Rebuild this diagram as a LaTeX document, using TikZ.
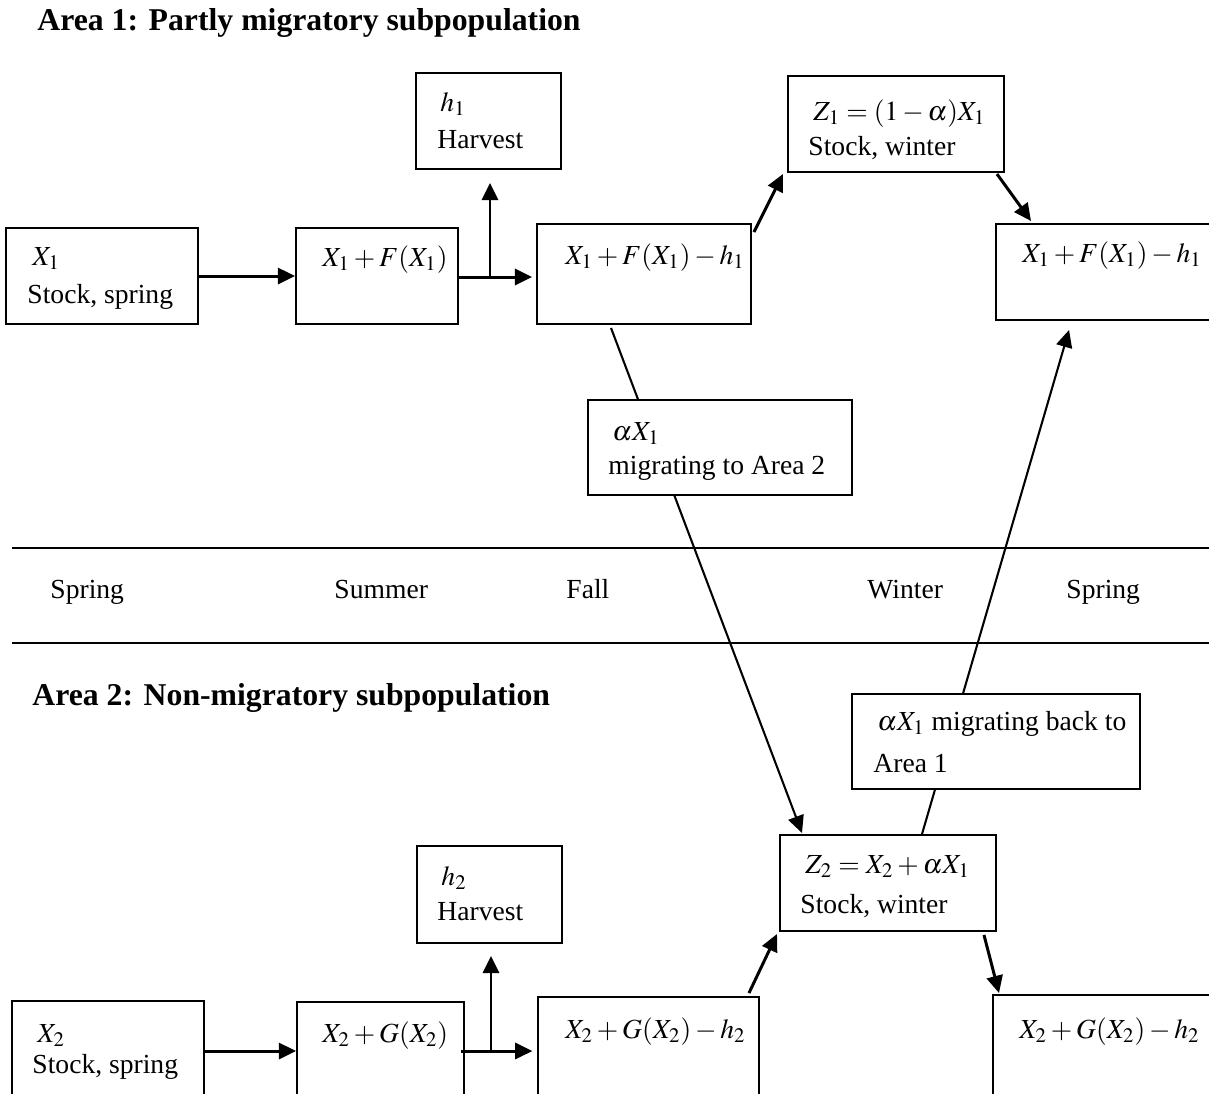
\documentclass[12pt,tikz,border=0pt]{standalone}
\usepackage{mathptmx}
\usepackage{fontspec}
\setmainfont{Liberation Serif}
\usetikzlibrary{arrows.meta,calc,fit,positioning}
\tikzset{
  box/.style={draw, line width=0.85pt, fill=white, inner sep=0pt},
  arr/.style={line width=1.3pt, -{Triangle[length=7.5pt,width=7pt]}},
  mig/.style={line width=0.9pt, -{Triangle[length=7.5pt,width=7pt]}},
  txt/.style={anchor=base west, inner sep=0pt},
  ttl/.style={anchor=base west, inner sep=0pt, font=\fontsize{13.8}{16}\selectfont\bfseries},
  sep/.style={line width=0.85pt},
}
\begin{document}
\begin{tikzpicture}[x=0.435pt, y=-0.435pt]
  \useasboundingbox (0,0) rectangle (1209,1093);
  \clip (0,0) rectangle (1209,1093);

  % area 1
  \node[ttl] (t1) at (37,30) {Area 1: Partly migratory subpopulation};
  \node[box, fit={(6,228) (198,324)}] (a1) {};
  \node[txt] (a1x) at (32,265) {$X_1$};
  \node[txt] (a1s) at (27,303) {Stock, spring};
  \node[box, fit={(296,228) (458,324)}] (b1) {};
  \node[txt] (b1x) at (322,266) {$X_1+F(X_1)$};
  \node[box, fit={(416,73) (561,169)}] (h1) {};
  \node[txt] (h1x) at (440,111) {$h_1$};
  \node[txt] (h1s) at (437,148) {Harvest};
  \node[box, fit={(537,224) (751,324)}] (c1) {};
  \node[txt] (c1x) at (565,264) {$X_1+F(X_1)-h_1$};
  \node[box, fit={(788,76) (1004,172)}] (z1) {};
  \node[txt] (z1x) at (813,120) {$Z_1=(1-\alpha)X_1$};
  \node[txt] (z1s) at (808,155) {Stock, winter};
  \node[box, fit={(996,224) (1240,320)}] (d1) {};
  \node[txt] (d1x) at (1022,262) {$X_1+F(X_1)-h_1$};

  \coordinate (j1) at (490,277);
  \draw[arr] (a1) -- (b1);
  \draw[arr, shorten >=1.7pt] (b1.east |- j1) -- (c1.west |- j1);
  \draw[arr, shorten >=5.6pt] (j1) -- (j1 |- h1.south);
  \draw[arr] ($(c1.north east)+(2,9)$) -- ($(z1.south west)+(-4,1)$);
  \draw[arr] ($(z1.south east)+(-8,1)$) -- ($(d1.north west)+(36,-2)$);

  % seasons
  \draw[sep] (12,548) -- (1209,548);
  \draw[sep] (12,643) -- (1209,643);
  \node[txt] (s1) at (50,598) {Spring};
  \node[txt] (s2) at (334,598) {Summer};
  \node[txt] (s3) at (566,598) {Fall};
  \node[txt] (s4) at (867,598) {Winter};
  \node[txt] (s5) at (1066,598) {Spring};

  % area 2
  \node[ttl] (t2) at (32,705) {Area 2: Non-migratory subpopulation};
  \node[box, fit={(12,1001) (204,1130)}] (a2) {};
  \node[txt] (a2x) at (37,1042) {$X_2$};
  \node[txt] (a2s) at (32,1073) {Stock, spring};
  \node[box, fit={(297,1002) (464,1130)}] (b2) {};
  \node[txt] (b2x) at (322,1042) {$X_2+G(X_2)$};
  \node[box, fit={(417,846) (562,943)}] (h2) {};
  \node[txt] (h2x) at (441,885) {$h_2$};
  \node[txt] (h2s) at (437,920) {Harvest};
  \node[box, fit={(538,997) (759,1130)}] (c2) {};
  \node[txt] (c2x) at (565,1038) {$X_2+G(X_2)-h_2$};
  \node[box, fit={(780,835) (996,931)}] (z2) {};
  \node[txt] (z2x) at (805,873) {$Z_2=X_2+\alpha X_1$};
  \node[txt] (z2s) at (800,913) {Stock, winter};
  \node[box, fit={(993,995) (1240,1130)}] (d2) {};
  \node[txt] (d2x) at (1019,1038) {$X_2+G(X_2)-h_2$};

  \coordinate (j2) at (491,1051);
  \draw[arr] (a2.east |- j2) -- (b2.west |- j2);
  \draw[arr, shorten >=2pt] ($(b2.east |- j2)+(-4,0)$) -- (c2.west |- j2);
  \draw[arr, shorten >=5.2pt] (j2) -- (j2 |- h2.south);
  \draw[arr] ($(c2.north east)+(-11,-3)$) -- ($(z2.south west)+(-2,2)$);
  \draw[arr] ($(z2.south east)+(-13,3)$) -- ($(d2.north west)+(7,-1)$);

  % migration
  \draw[mig] ($(c1.south west)+(75,3)$) -- ($(z2.north west)+(23,-1)$);
  \draw[mig] ($(z2.north west)+(143,0)$) -- ($(d1.south west)+(74,9)$);
  \node[box, fit={(588,400) (852,495)}] (m1) {};
  \node[txt] (m1x) at (612,440) {$\alpha X_1$};
  \node[txt] (m1s) at (608,474) {migrating to Area 2};
  \node[box, fit={(852,694) (1140,789)}] (m2) {};
  \node[txt] (m2x) at (877,730) {$\alpha X_1$ migrating back to};
  \node[txt] (m2s) at (873,772) {Area 1};
\end{tikzpicture}
\end{document}
